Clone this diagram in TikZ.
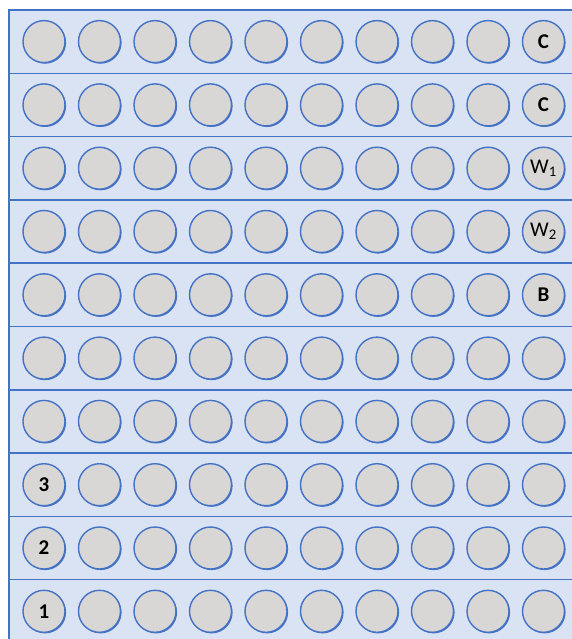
\documentclass[tikz,border=0pt]{standalone}
\usepackage{fontspec}
\setmainfont{Carlito}
\usetikzlibrary{shadows}
\definecolor{bgblue}{HTML}{DAE3F3}
\definecolor{lineblue}{HTML}{4472C4}
\definecolor{wellgray}{HTML}{D9D6D6}
\tikzset{
  well/.style={circle, draw=lineblue, line width=1.4pt, fill=wellgray,
    minimum size=42pt, inner sep=0pt,
    drop shadow={shadow xshift=1.1pt, shadow yshift=-1.1pt, fill=lineblue, opacity=1}},
  rowline/.style={draw=lineblue, line width=1.5pt},
  lab/.style={font=\fontsize{21}{21}\selectfont},
  blab/.style={font=\fontsize{21}{21}\selectfont\bfseries}
}
\begin{document}
\begin{tikzpicture}[x=1pt,y=-1pt]
\useasboundingbox (0,0) rectangle (572,639);
\fill[bgblue] (9,10) rectangle (572,639);
\draw[rowline] (9,639) -- (9,10) -- (572,10);
\foreach \r in {1,...,9}{
  \draw[rowline] (9,{10+63.3*\r}) -- (572,{10+63.3*\r});
}
\foreach \r in {0,...,9}{
  \foreach \c in {0,...,9}{
    \node[well] (w-\r-\c) at ({44+55.5*\c},{41.6+63.3*\r}) {};
  }
}
\node[blab] at (w-0-9) {C};
\node[blab] at (w-1-9) {C};
\node[lab] at (w-2-9) {W\textsubscript{1}};
\node[lab] at (w-3-9) {W\textsubscript{2}};
\node[blab] at (w-4-9) {B};
\node[blab] at (w-7-0) {3};
\node[blab] at (w-8-0) {2};
\node[blab] at (w-9-0) {1};
\end{tikzpicture}
\end{document}
